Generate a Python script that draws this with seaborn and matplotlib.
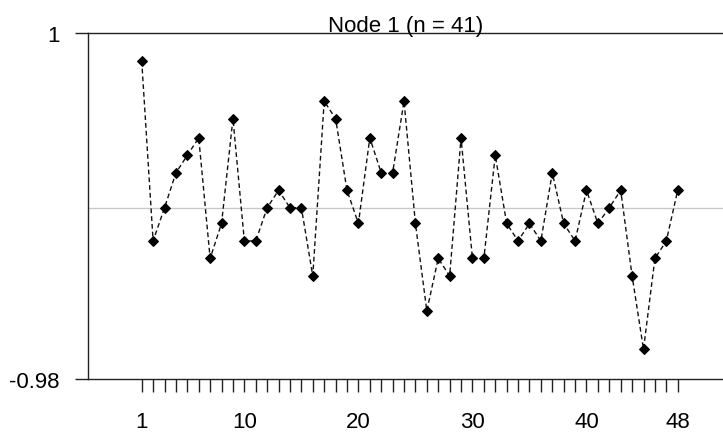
import numpy as np
import pandas as pd
import matplotlib
matplotlib.use("Agg")
import matplotlib.pyplot as plt
import seaborn as sns

# data
x_idx = list(range(1, 49))
vals = [0.84, -0.19, 0.00, 0.20, 0.30, 0.40, -0.29, -0.09, 0.51, -0.19,
        -0.19, 0.00, 0.10, 0.00, 0.00, -0.39, 0.61, 0.51, 0.10, -0.09,
        0.40, 0.20, 0.20, 0.61, -0.09, -0.59, -0.29, -0.39, 0.40, -0.29,
        -0.29, 0.30, -0.09, -0.19, -0.09, -0.19, 0.20, -0.09, -0.19, 0.10,
        -0.09, 0.00, 0.10, -0.39, -0.81, -0.29, -0.19, 0.10]
x_labels = {1: "1", 10: "10", 20: "20", 30: "30", 40: "40", 48: "48"}
y_ticks = [-0.98, 1]
y_labels = ["-0.98", "1"]
title = "Node 1 (n = 41)"

df = pd.DataFrame({"idx": x_idx, "val": vals})

sns.set_theme(style="white")
plt.rcParams["font.family"] = ["Liberation Sans", "DejaVu Sans"]

fig = plt.figure(figsize=(7.23, 4.35), dpi=100)
ax = fig.add_axes([88 / 723, 55 / 435, 1 - 88 / 723, 346 / 435])

# grey reference line at zero
ax.axhline(0, color="#c8c8c8", lw=1, zorder=0)
sns.lineplot(data=df, x="idx", y="val", ax=ax, color="#111111",
             linewidth=1.0, linestyle=(0, (3.4, 2.2)), marker="D",
             markersize=5.3, markeredgecolor="black", markerfacecolor="black")

ax.set_xlim(-3.71, 51.97)
ax.set_ylim(-0.98, 1)

ax.set_xticks(x_idx)
ax.set_xticklabels([x_labels.get(i, "") for i in x_idx])
ax.set_yticks(y_ticks)
ax.set_yticklabels(y_labels)

ax.tick_params(axis="x", direction="out", length=9.4, width=1, color="#222222",
               pad=14, labelsize=16, labelcolor="black", bottom=True)
ax.tick_params(axis="y", direction="out", length=9.4, width=1, color="#222222",
               pad=11, labelsize=16, labelcolor="black", left=True)

for side in ["left", "top", "bottom"]:
    ax.spines[side].set_visible(True)
    ax.spines[side].set_color("#222222")
    ax.spines[side].set_linewidth(1)
ax.spines["right"].set_visible(False)

ax.set_xlabel("")
ax.set_ylabel("")
ax.set_title(title, fontsize=16, color="black", pad=1.7)

fig.savefig("out.png", dpi=100)
